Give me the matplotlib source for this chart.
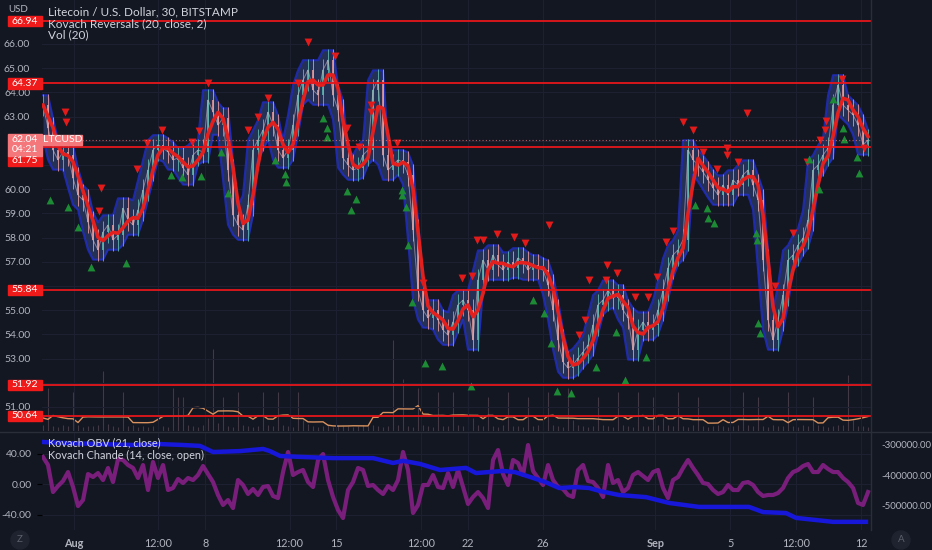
import numpy as np
import pandas as pd
import matplotlib
matplotlib.use("Agg")
import matplotlib.pyplot as plt
import matplotlib.transforms as mtransforms
from matplotlib.patches import Rectangle, Circle

plt.rcParams['font.family'] = ['Lato', 'DejaVu Sans']

# ---------------- data ----------------
START_DAY = -1.653          # first bar, days from Aug 1
BAR_STEP = 0.2667          # days between sampled bars

close = [63.48, 62.53, 61.62, 61.21, 61.54, 61.41, 60.46, 59.76, 59.55, 58.64,
         57.90, 57.49, 58.23, 58.52, 57.90, 58.11, 59.22, 58.73, 58.52, 59.14,
         59.97, 60.79, 61.62, 61.83, 61.70, 61.54, 61.21, 61.29, 60.88, 60.59,
         61.41, 61.62, 61.54, 63.69, 63.19, 62.65, 62.94, 60.79, 58.93, 58.52,
         58.31, 59.35, 61.62, 62.03, 62.45, 63.19, 62.65, 61.62, 61.29, 61.62,
         62.65, 63.89, 64.51, 64.93, 64.10, 63.89, 64.93, 65.34, 63.89, 63.27,
         61.29, 61.00, 60.79, 60.88, 61.41, 61.62, 64.10, 64.51, 61.41, 60.79,
         61.00, 61.21, 61.12, 60.59, 58.31, 55.83, 55.01, 54.68, 55.01, 54.59,
         54.18, 53.97, 54.51, 55.22, 55.42, 55.01, 53.77, 56.25, 57.07, 56.66,
         57.28, 56.87, 56.66, 56.99, 56.74, 57.16, 56.99, 56.66, 56.87, 56.74,
         56.66, 56.04, 55.01, 53.77, 52.86, 52.61, 52.74, 53.02, 53.27, 53.56,
         54.39, 55.22, 55.42, 55.83, 55.50, 55.63, 55.01, 54.68, 53.36, 54.18,
         54.51, 54.18, 54.39, 55.01, 55.83, 56.74, 57.28, 57.49, 57.90, 61.62,
         61.21, 61.00, 60.71, 60.38, 60.05, 59.76, 60.17, 59.76, 60.38, 60.17,
         60.59, 60.79, 60.17, 59.55, 57.07, 54.59, 53.77, 54.59, 55.63, 57.07,
         57.28, 57.69, 57.98, 58.73, 60.79, 61.00, 61.41, 61.70, 63.48, 64.31,
         63.48, 63.27, 63.07, 62.65, 61.83, 62.04]

volume = [1.5, 10, 1.2, 1.0, 1.4, 1.1, 9, 1.3, 1.0, 1.2,
          1.1, 1.3, 14, 1.6, 1.2, 1.0, 9, 1.1, 1.3, 1.0,
          1.2, 1.0, 1.1, 1.4, 1.2, 1.0, 10, 8, 8, 1.5,
          1.2, 1.0, 1.3, 3.0, 19, 1.8, 8, 1.2, 1.0, 9,
          1.3, 1.1, 1.0, 1.2, 9, 1.5, 1.2, 9, 1.3, 1.2,
          1.0, 9, 2.5, 1.6, 1.2, 1.0, 1.1, 1.3, 1.0, 1.4,
          1.2, 1.1, 1.0, 1.2, 1.3, 1.1, 1.5, 1.2, 1.0, 1.2,
          21, 1.4, 12, 1.2, 1.0, 10, 1.3, 1.1, 1.0, 9,
          1.2, 1.1, 9, 1.3, 1.2, 9, 3.0, 1.4, 1.2, 8,
          1.1, 1.0, 1.3, 9, 1.2, 1.1, 1.0, 8, 1.2, 1.3,
          1.1, 9, 1.4, 1.2, 1.0, 10, 2.5, 1.3, 1.1, 1.0,
          1.2, 8, 1.4, 1.1, 1.0, 9, 1.3, 1.2, 1.0, 9,
          1.1, 1.2, 8, 1.3, 3.0, 1.4, 1.1, 9, 1.2, 1.0,
          1.3, 8, 1.1, 1.0, 1.2, 1.4, 1.1, 1.0, 1.2, 1.3,
          9, 1.4, 1.2, 8, 1.1, 1.0, 1.3, 1.2, 1.1, 9,
          1.2, 1.0, 1.3, 1.1, 8, 1.4, 1.2, 1.0, 1.1, 1.3,
          1.4, 13, 2.5, 1.2, 1.1, 1.0]

chande = [35.4, 24.9, -10.5, -2.6, 3.9, 15.7, -3.9, -28.9, -21.0, 13.1,
          9.2, 14.4, 5.2, 21.0, 2.6, 32.8, 31.5, 24.9, 21.0, 7.9,
          24.9, -7.9, 28.9, 7.9, 24.9, -7.9, -5.2, 6.6, 1.3, 7.9,
          5.2, 11.8, 23.6, 13.1, 2.6, -14.4, -27.5, -21.0, -31.5, 5.2,
          -1.3, -13.1, -6.6, -14.4, -3.9, -2.6, -15.7, -18.4, 15.7, 42.0,
          11.8, 15.7, 18.4, 2.6, -3.9, 31.5, 39.3, 5.2, -17.0, -34.1,
          -44.6, -7.9, 2.6, 21.0, 18.4, -2.6, -1.3, -7.9, -13.1, -2.6,
          -7.9, 5.2, 42.0, 18.4, -38.0, -27.5, -1.3, -1.3, 11.8, -3.9,
          -5.2, 14.4, -3.9, 18.4, -3.9, -26.2, -17.0, -10.5, -18.4, -31.5,
          31.5, 44.6, 13.1, -1.3, 31.5, 27.5, 11.8, 51.1, 17.0, 7.9,
          -1.3, 24.9, 5.2, -3.9, -6.6, -14.4, -17.0, 18.4, 24.9, 3.9,
          2.6, -5.2, -17.0, 24.9, 1.3, 5.2, -10.5, -5.2, 11.8, 15.7,
          10.5, 5.2, 15.7, 18.4, -5.2, -18.4, 5.2, 9.2, 21.0, 31.5,
          21.0, 11.8, 1.3, 0.0, -7.9, -13.1, -10.5, -1.3, -7.9, -7.9,
          1.3, 2.6, -1.3, -10.5, -15.7, -14.4, -14.4, -11.8, -5.2, 7.9,
          15.7, 18.4, 23.6, 26.2, 15.7, 15.7, 24.9, 19.7, 15.7, 15.7,
          7.9, 2.6, -5.2, -24.9, -27.5, -10.5]

obv_days = [-1.71, -0.75, 1.39, 3.15, 4.59, 5.81, 6.72, 7.41, 8.85, 10.08,
            10.45, 10.99, 12.05, 13.81, 15.95, 17.01, 17.55, 18.45, 19.52, 20.91,
            21.44, 22.88, 23.52, 24.48, 25.12, 25.87, 26.72, 27.47, 28.05, 29.07,
            30.51, 31.73, 33.33, 34.45, 36.00, 36.75, 37.97, 38.51, 40.48, 42.24]
obv = [-290000, -293000, -297000, -300000, -297000, -300000, -303000, -323000, -320000, -313000,
       -320000, -336000, -339000, -343000, -343000, -359000, -352000, -362000, -382000, -375000,
       -392000, -385000, -389000, -408000, -421000, -441000, -438000, -441000, -451000, -464000,
       -471000, -490000, -503000, -503000, -503000, -520000, -523000, -539000, -552000, -552000]

sell_days = [-0.48, -0.43, 1.44, 1.33, 3.36, 3.89, 4.69, 6.29, 6.67, 7.15, 9.28, 9.81, 10.35,
             11.95, 12.48, 13.92, 14.56, 15.20, 15.84, 15.84, 17.23, 18.61, 20.69, 21.23, 21.49,
             21.81, 22.56, 23.47, 24.05, 25.33, 26.93, 27.25, 27.47, 28.37, 28.43, 28.96, 29.92,
             30.61, 31.09, 31.57, 31.95, 32.48, 33.01, 33.55, 34.29, 34.83, 34.83, 35.41, 35.89,
             37.39, 38.35, 39.09, 39.79, 40.05, 40.11, 40.96, 42.13]
sell_prices = [63.19, 62.78, 60.05, 59.10, 60.83, 61.91, 62.45, 61.95, 62.40, 64.39, 62.45, 62.98, 63.77,
               64.39, 66.08, 65.50, 62.53, 61.74, 63.48, 63.19, 61.91, 56.12, 56.33, 56.41, 57.90,
               57.90, 58.15, 58.03, 57.78, 58.52, 53.98, 54.60, 56.25, 56.25, 56.87, 56.54, 55.55,
               55.55, 56.37, 57.82, 58.27, 62.78, 62.45, 61.54, 60.83, 61.70, 61.41, 61.12, 63.15,
               56.00, 58.19, 61.12, 62.03, 62.45, 62.82, 64.55, 61.70]

buy_days = [-1.28, -0.32, 0.21, 0.91, 2.77, 5.17, 5.76, 6.77, 7.84, 8.21,
            10.72, 11.25, 11.31, 13.28, 13.49, 13.49, 14.56, 14.77, 15.04, 17.49,
            17.49, 17.71, 17.81, 18.03, 18.72, 19.63, 21.17, 24.48, 25.07, 25.44,
            25.76, 26.51, 27.84, 28.91, 29.39, 30.51, 33.12, 33.76, 33.81, 34.13,
            36.37, 36.43, 36.48, 36.59, 39.20, 39.73, 40.48, 41.01, 41.07, 41.76, 41.87]
buy_prices = [59.55, 59.26, 58.44, 56.79, 56.95, 60.59, 60.50, 60.55, 61.54, 59.84,
              61.21, 60.63, 60.30, 62.94, 62.53, 62.16, 59.93, 59.14, 59.59, 59.97,
              59.76, 59.26, 57.69, 55.34, 52.82, 52.69, 51.87, 55.42, 54.88, 53.64,
              51.66, 51.58, 52.65, 54.10, 52.12, 53.07, 59.35, 59.23, 58.81, 58.60,
              58.19, 57.90, 54.47, 54.06, 61.25, 60.01, 63.73, 62.53, 62.07, 61.33, 60.67]

levels = [66.94, 64.37, 61.75, 55.84, 51.92, 50.64]
last_price = 62.04
price_ticks = [51, 53, 54, 55, 57, 58, 59, 60, 63, 64, 65, 66]
grid_prices = list(range(51, 67))
tick_days = [0, 4.5, 7, 11.5, 14, 18.5, 21, 25, 31, 35, 38.5, 42]
tick_labels = ['Aug', '12:00', '8', '12:00', '15', '12:00', '22', '26', 'Sep', '5', '12:00', '12']

# ---------------- style ----------------
W, H = 932, 550
BG = '#131722'
GRID = '#1c2030'
TXT = '#b2b5be'
LEG = '#d1d4dc'

def fx(px):
    return px / W

def fy(py):
    return 1 - py / H

fig = plt.figure(figsize=(W / 100, H / 100), dpi=100)
fig.patch.set_facecolor(BG)

ax = fig.add_axes([fx(42), fy(431), fx(871) - fx(42), fy(0) - fy(431)])
axl = fig.add_axes([fx(42), fy(530), fx(871) - fx(42), fy(432) - fy(530)])

days = START_DAY + BAR_STEP * np.arange(len(close))
c = np.array(close)
XMIN, XMAX = -1.707, 42.51

# volume on its own scale behind price
axv = ax.twinx()
axv.set_zorder(ax.get_zorder() - 1)
ax.patch.set_visible(False)
axv.set_facecolor(BG)
axv.set_ylim(0, 100)
axv.vlines(days, 0, volume, color='#7d6470', lw=0.8, alpha=0.45)
vol_ma = pd.Series(volume).rolling(10, center=True, min_periods=1).mean()
axv.plot(days, vol_ma, color='#d9925f', lw=1.0)
axv.set_yticks([])
for s_ in axv.spines.values():
    s_.set_visible(False)

ax.set_xlim(XMIN, XMAX)
ax.set_ylim(50.008, 67.818)
for p in grid_prices:
    ax.axhline(p, color=GRID, lw=0.8, zorder=0)
for d in tick_days:
    ax.axvline(d, color=GRID, lw=0.8, zorder=0)

# reversal channel
s = pd.Series(c)
upper = s.rolling(3, center=True, min_periods=1).max() + 0.4
lower = s.rolling(3, center=True, min_periods=1).min() - 0.4
ax.fill_between(days, lower, upper, color='#283560', alpha=0.85, lw=0, zorder=1)
ax.plot(days, upper, color='#2230d6', lw=1.5, alpha=0.75, zorder=1.5)
ax.plot(days, lower, color='#2230d6', lw=1.5, alpha=0.75, zorder=1.5)

# candle-like hairs
prev = np.concatenate([[c[0]], c[:-1]])
up = c >= prev
cols = np.where(up, '#5fb8ae', '#e79a9a')
ax.vlines(days, np.minimum(prev, c) - 0.45, np.maximum(prev, c) + 0.45, colors=cols, lw=0.7, alpha=0.85, zorder=2)
ax.vlines(days, np.minimum(prev, c), np.maximum(prev, c), colors=cols, lw=1.4, alpha=0.85, zorder=2)
ax.plot(days, c, color='#c9b3bb', lw=0.7, alpha=0.6, zorder=2)

# smoothed red line
ma = s.rolling(3, min_periods=1).mean()
ax.plot(days, ma, color='#e3201d', lw=2.6, zorder=3)

ax.scatter(sell_days, sell_prices, marker='v', s=32, color='#e31a1a', zorder=4, lw=0)
ax.scatter(buy_days, buy_prices, marker='^', s=32, color='#1d8a35', zorder=4, lw=0)

for lv in levels:
    ax.axhline(lv, color='#e5151b', lw=1.3, zorder=5)
ax.axhline(last_price, color='#f27d80', lw=0.8, ls=(0, (1, 2)), alpha=0.7, zorder=5)

ax.set_yticks(price_ticks)
ax.set_yticklabels([f"{p:.2f}" for p in price_ticks])
ax.tick_params(axis='y', left=False, labelsize=7.5, labelcolor=TXT, pad=5)
ax.set_xticks([])
for sp in ax.spines.values():
    sp.set_visible(False)

# ---------------- lower panel ----------------
axl.set_facecolor(BG)
axl.set_xlim(XMIN, XMAX)
axl.set_ylim(-60.3, 68.2)
for d in tick_days:
    axl.axvline(d, color=GRID, lw=0.8, zorder=0)
for v in (-40, 0, 40):
    axl.axhline(v, color=GRID, lw=0.8, zorder=0)
axl.plot(days, chande, color='#7a1e7c', lw=3.0, zorder=2)
axl.set_yticks([-40, 0, 40])
axl.set_yticklabels(['-40.00', '0.00', '40.00'])
axl.tick_params(axis='y', left=False, labelsize=7.5, labelcolor=TXT, pad=4)
axl.set_xticks(tick_days)
axl.set_xticklabels(tick_labels)
axl.tick_params(axis='x', bottom=False, labelsize=7.8, labelcolor=TXT, pad=2)
for lab in axl.get_xticklabels():
    if lab.get_text() in ('Aug', 'Sep'):
        lab.set_fontweight('bold')
for sp in axl.spines.values():
    sp.set_visible(False)

axr = axl.twinx()
axr.set_ylim(-578700, -257400)
axr.plot(obv_days, obv, color='#1717d9', lw=3.2, zorder=3)
axr.set_yticks([-300000, -400000, -500000])
axr.set_yticklabels(['-300000.00', '-400000.00', '-500000.00'])
axr.tick_params(axis='y', right=False, labelsize=7.0, labelcolor=TXT, pad=4)
for sp in axr.spines.values():
    sp.set_visible(False)

# separators
fig.add_artist(plt.Line2D([0, 1], [fy(431.5), fy(431.5)], color='#2a2e39', lw=1))
fig.add_artist(plt.Line2D([fx(871), fx(871)], [fy(530), 1], color='#2a2e39', lw=1))

# ---------------- texts ----------------
fig.text(fx(8), fy(9), 'USD', color=TXT, fontsize=7, va='center', ha='left')
fig.text(fx(48), fy(12), 'Litecoin / U.S. Dollar, 30, BITSTAMP', color=LEG, fontsize=8.5, va='center')
fig.text(fx(48), fy(23.5), 'Kovach Reversals (20, close, 2)', color=LEG, fontsize=8.5, va='center')
fig.text(fx(48), fy(35), 'Vol (20)', color=LEG, fontsize=8.5, va='center')
fig.text(fx(48), fy(443), 'Kovach OBV (21, close)', color=LEG, fontsize=7.8, va='center')
fig.text(fx(48), fy(455), 'Kovach Chande (14, close, open)', color=LEG, fontsize=7.8, va='center')

trans = mtransforms.blended_transform_factory(fig.transFigure, ax.transData)
BOXH = 0.42
for lv in levels:
    ypos = lv - 0.58 if lv == 61.75 else lv
    fig.add_artist(Rectangle((fx(8), ypos - BOXH / 2), fx(42) - fx(8), BOXH,
                             transform=trans, color='#f01a1a', zorder=10))
    fig.text(fx(25), ypos, f"{lv:.2f}", transform=trans, color='white', fontsize=7.5,
             ha='center', va='center', zorder=11)
fig.add_artist(Rectangle((fx(8), last_price - 0.67), fx(42) - fx(8), 0.92,
                         transform=trans, color='#f4777b', zorder=10))
fig.text(fx(25), last_price, f"{last_price:.2f}", transform=trans, color='white', fontsize=7.5,
         ha='center', va='center', zorder=11)
fig.text(fx(25), last_price - 0.42, '04:21', transform=trans, color='white', fontsize=7.5,
         ha='center', va='center', zorder=11)
fig.add_artist(Rectangle((fx(43), last_price - BOXH / 2), fx(82) - fx(43), BOXH,
                         transform=trans, color='#f4777b', zorder=10))
fig.text(fx(62.5), last_price, 'LTCUSD', transform=trans, color='white', fontsize=7.5,
         ha='center', va='center', zorder=11)

for cx, lab in ((20, 'Z'), (901, 'A')):
    fig.add_artist(Circle((cx, H - 540), 9, transform=mtransforms.IdentityTransform(),
                          color='#1f2330', zorder=5))
    fig.text(fx(cx), fy(540), lab, color='#5d606b', fontsize=7, ha='center', va='center', zorder=6)

fig.savefig('out.png', dpi=100, facecolor=BG)
